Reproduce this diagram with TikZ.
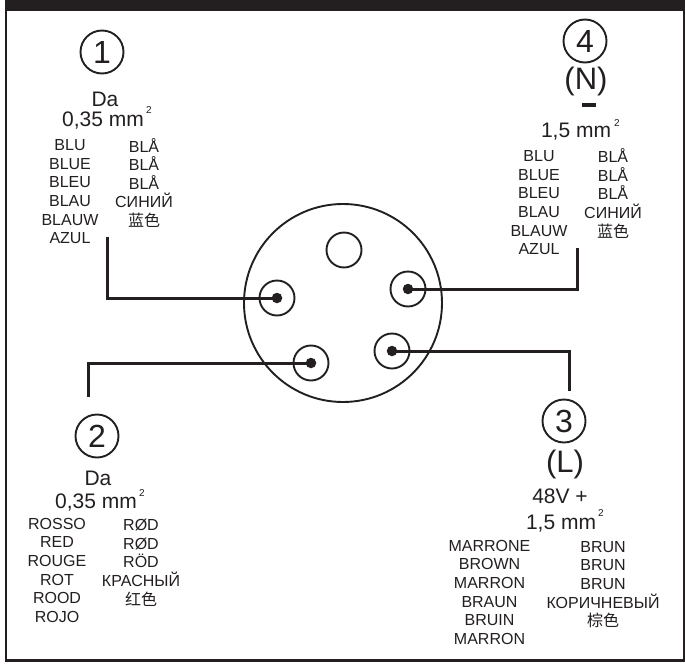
\documentclass[tikz,border=0pt]{standalone}
\usepackage{fontspec}
\setmainfont{Liberation Sans}
\newfontfamily\cjk{Noto Sans CJK SC}
\definecolor{ink}{HTML}{231F20}
\tikzset{
 x=1pt,y=-1pt,
 wire/.style={line width=3pt,draw=ink},
 ring/.style={circle,draw=ink,line width=1.9pt,minimum size=35pt,inner sep=0pt},
 dot/.style={circle,fill=ink,minimum size=10.5pt,inner sep=0pt},
 num/.style={circle,draw=ink,line width=1.9pt,minimum size=43pt,inner sep=0pt,font=\fontsize{32}{32}\selectfont,text=ink},
 big/.style={font=\fontsize{31}{31}\selectfont,text=ink,inner sep=0pt},
 mid/.style={font=\fontsize{21}{21}\selectfont,text=ink,inner sep=0pt},
 sup/.style={font=\fontsize{10}{10}\selectfont,text=ink,inner sep=0pt},
 col/.style={font=\fontsize{16}{18.6}\selectfont,text=ink,inner sep=0pt,align=center,anchor=north},
}
\begin{document}
\begin{tikzpicture}
\useasboundingbox (0,0) rectangle (685,664);
\fill[white] (0,0) rectangle (685,664);
\fill[ink] (5,0) rectangle (685,11);
\draw[ink,line width=2.4pt] (6.2,0) -- (6.2,660.3) -- (683.8,660.3) -- (683.8,0);
% connector
\node[circle,draw=ink,line width=1.9pt,minimum size=198pt,inner sep=0pt] (body) at (343,303) {};
\node[ring] (blank) at (344,250) {};
\node[ring] (p1) at (277,298) {};
\node[ring] (p2) at (311,363) {};
\node[ring] (p3) at (392,351) {};
\node[ring] (p4) at (408,289) {};
\node[dot] (d1) at (277,298) {};
\node[dot] (d2) at (311,363) {};
\node[dot] (d3) at (392,351) {};
\node[dot] (d4) at (408,289) {};
\coordinate (e1) at (107.5,237);
\coordinate (e2) at (88,397);
\coordinate (e3) at (569,391);
\coordinate (e4) at (577,248);
\draw[wire] (e1) |- (d1.center);
\draw[wire] (e2) |- (d2.center);
\draw[wire] (e3) |- (d3.center);
\draw[wire] (e4) |- (d4.center);
% 1
\node[num] (n1) at (102,52) {1};
\node[mid] (t1a) at (105,99.5) {Da};
\node[mid] (t1b) at (103,120.5) {0,35 mm};
\node[sup] (t1c) at (149,110) {2};
\node[col] (c1a) at (70,139.5) {BLU\\BLUE\\BLEU\\BLAU\\BLAUW\\AZUL};
\node[col] (c1b) at (144,138) {BLÅ\\BLÅ\\BLÅ\\СИНИЙ\\{\cjk 蓝色}};
% 2
\node[num] (n2) at (97,436) {2};
\node[mid] (t2a) at (98,478) {Da};
\node[mid] (t2b) at (96,503) {0,35 mm};
\node[sup] (t2c) at (142,493) {2};
\node[col] (c2a) at (57,518) {ROSSO\\RED\\ROUGE\\ROT\\ROOD\\ROJO};
\node[col] (c2b) at (141,519) {RØD\\RØD\\RÖD\\КРАСНЫЙ\\{\cjk 红色}};
% 3
\node[num] (n3) at (564,421) {3};
\node[big] (t3a) at (565,464) {(L)};
\node[mid] (t3b) at (560,496) {48V +};
\node[mid] (t3c) at (561,523.5) {1,5 mm};
\node[sup] (t3d) at (601,513) {2};
\node[col] (c3a) at (489.5,540) {MARRONE\\BROWN\\MARRON\\BRAUN\\BRUIN\\MARRON};
\node[col] (c3b) at (603,541) {BRUN\\BRUN\\BRUN\\КОРИЧНЕВЫЙ\\{\cjk 棕色}};
% 4
\node[num] (n4) at (585,41) {4};
\node[big] (t4a) at (586,81.5) {(N)};
\node[mid] (t4b) at (576,132) {1,5 mm};
\node[sup] (t4c) at (617,123) {2};
\fill[ink] (582,103) rectangle (596,107);
\node[col] (c4a) at (539,150.5) {BLU\\BLUE\\BLEU\\BLAU\\BLAUW\\AZUL};
\node[col] (c4b) at (613,148.5) {BLÅ\\BLÅ\\BLÅ\\СИНИЙ\\{\cjk 蓝色}};
\end{tikzpicture}
\end{document}
